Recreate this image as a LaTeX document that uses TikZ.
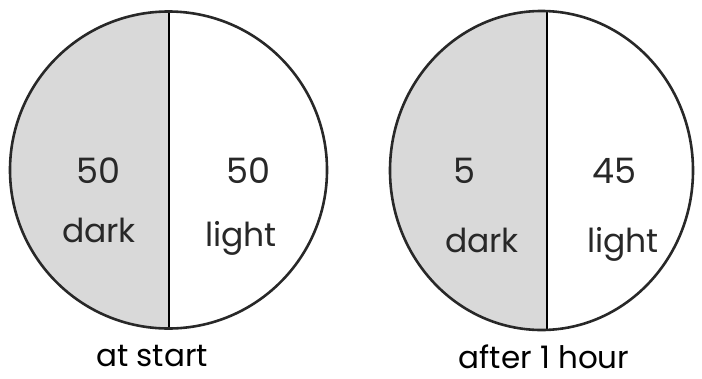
\documentclass[tikz,border=0pt]{standalone}
\usepackage{fontspec}
\setmainfont{Poppins}
\usetikzlibrary{positioning}
\definecolor{halfgray}{RGB}{217,217,217}
\definecolor{inkgray}{RGB}{40,40,40}

\begin{document}
\begin{tikzpicture}[x=1pt, y=-1pt,
    rim/.style={draw=inkgray, line width=2.6pt},
    split/.style={draw=black, line width=2.2pt},
    num/.style={font=\fontsize{35}{38}\selectfont, text=inkgray, inner sep=0pt, anchor=base},
    word/.style={font=\fontsize{33}{36}\selectfont, text=inkgray, inner sep=0pt, anchor=base},
    caption/.style={font=\fontsize{31}{34}\selectfont, text=black, inner sep=0pt,
                    text depth=0pt, anchor=base}
  ]
    \useasboundingbox (0,0) rectangle (702,378);

    %% Left circle: at start
    \begin{scope}
      \clip (168.5,170) circle[radius=158.5];
      \fill[halfgray] (0,0) rectangle (169,340);
    \end{scope}
    \coordinate (ltop) at (169,11.5);
    \coordinate (lbot) at (169,328.5);
    \draw[split] (ltop) -- (lbot);
    \draw[rim] (168.5,170) circle[radius=158.5];

    \node[num]  (ldn) at (98.5,183) {50};
    \node[word] (ldw) at (99,242) {dark};
    \node[num]  (lln) at (248.5,183) {50};
    \node[word] (llw) at (241,246) {light};
    \node[caption] (lcap) at (152,366) {at start};

    %% Right circle: after 1 hour
    \begin{scope}
      \clip (541.5,170.5) ellipse[x radius=151.5, y radius=159.5];
      \fill[halfgray] (380,0) rectangle (547,340);
    \end{scope}
    \coordinate (rtop) at (547,11.2);
    \coordinate (rbot) at (547,329.8);
    \draw[split] (rtop) -- (rbot);
    \draw[rim] (541.5,170.5) ellipse[x radius=151.5, y radius=159.5];

    \node[num]  (rdn) at (464,183) {5};
    \node[word] (rdw) at (482,252) {dark};
    \node[num]  (rln) at (614,183) {45};
    \node[word] (rlw) at (623,252) {light};
    \node[caption] (rcap) at (544,368) {after 1 hour};
  \end{tikzpicture}
\end{document}
